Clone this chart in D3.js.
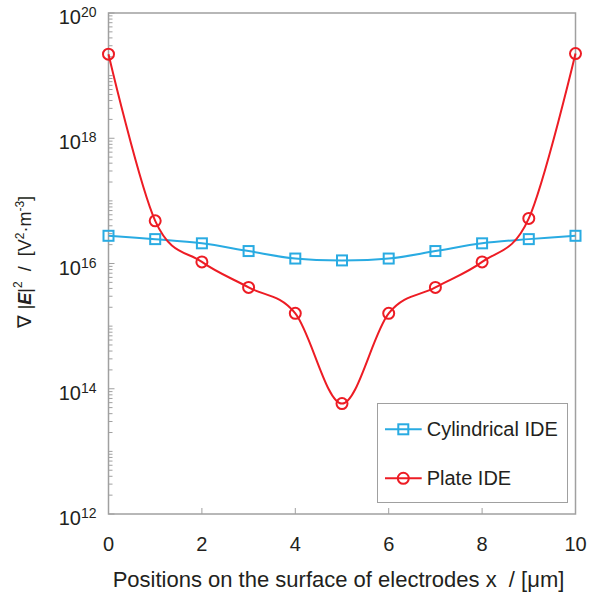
<!DOCTYPE html>
<html>
<head>
<meta charset="utf-8">
<script src="https://cdn.jsdelivr.net/npm/d3@7"></script>
<style>
  body { margin: 0; background: #fff; }
  text { font-family: "Liberation Sans", Arial, sans-serif; fill: #231f20; }
</style>
</head>
<body>
<script>
// chart data
var positions = [0, 1, 2, 3, 4, 5, 6, 7, 8, 9, 10];
var cylindrical = [2.77e16, 2.45e16, 2.1e16, 1.58e16, 1.2e16, 1.12e16, 1.2e16, 1.58e16, 2.1e16, 2.45e16, 2.77e16];
var plate = [2.2e19, 4.8e16, 1.06e16, 4.15e15, 1.6e15, 5.8e13, 1.6e15, 4.15e15, 1.06e16, 5.25e16, 2.25e19];
var seriesNames = ["Cylindrical IDE", "Plate IDE"];
var xTicks = [0, 2, 4, 6, 8, 10];
var yExponents = [12, 14, 16, 18, 20];

var W = 592, H = 595;
var margin = {left: 108.5, right: 16.5, top: 13, bottom: 81};

var svg = d3.select("body").append("svg")
    .attr("width", W)
    .attr("height", H);

var x = d3.scaleLinear().domain([0, 10]).range([margin.left, W - margin.right]);
var y = d3.scaleLog().domain([1e12, 1e20]).range([H - margin.bottom, margin.top]);

var axisColor = "#a0a0a0";

// frame
svg.append("rect")
    .attr("x", x(0)).attr("y", y(1e20))
    .attr("width", x(10) - x(0)).attr("height", y(1e12) - y(1e20))
    .attr("fill", "none")
    .attr("stroke", axisColor)
    .attr("stroke-width", 1.5);

// y ticks: majors every two decades, minors at 1..9 x 10^n
var minorVals = [];
for (var e = 12; e < 20; e++) {
    for (var k = 1; k <= 9; k++) {
        if (k === 1 && e % 2 === 0) continue;
        minorVals.push(k * Math.pow(10, e));
    }
}
svg.append("g").selectAll("line.minor")
    .data(minorVals)
    .enter().append("line")
    .attr("x1", x(0)).attr("x2", x(0) + 4)
    .attr("y1", function(d) { return y(d); })
    .attr("y2", function(d) { return y(d); })
    .attr("stroke", axisColor).attr("stroke-width", 1);

svg.append("g").selectAll("line.major")
    .data(yExponents)
    .enter().append("line")
    .attr("x1", x(0)).attr("x2", x(0) + 6)
    .attr("y1", function(d) { return y(Math.pow(10, d)); })
    .attr("y2", function(d) { return y(Math.pow(10, d)); })
    .attr("stroke", axisColor).attr("stroke-width", 1);

var yLabels = svg.append("g").selectAll("text")
    .data(yExponents)
    .enter().append("text")
    .attr("x", x(0) - 12)
    .attr("y", function(d) { return y(Math.pow(10, d)) + 11; })
    .attr("text-anchor", "end")
    .style("font-size", "20px");
yLabels.append("tspan").text("10");
yLabels.append("tspan")
    .attr("dy", -7)
    .style("font-size", "14px")
    .text(function(d) { return d; });

// x ticks
svg.append("g").selectAll("line")
    .data(xTicks.filter(function(d) { return d > 0 && d < 10; }))
    .enter().append("line")
    .attr("x1", function(d) { return x(d); })
    .attr("x2", function(d) { return x(d); })
    .attr("y1", y(1e12)).attr("y2", y(1e12) - 6)
    .attr("stroke", axisColor).attr("stroke-width", 1);

svg.append("g").selectAll("text")
    .data(xTicks)
    .enter().append("text")
    .attr("x", function(d) { return x(d); })
    .attr("y", 551)
    .attr("text-anchor", "middle")
    .style("font-size", "20px")
    .text(function(d) { return d; });

// axis titles
svg.append("text")
    .attr("x", 338.5)
    .attr("y", 587)
    .attr("text-anchor", "middle")
    .style("font-size", "22px")
    .style("white-space", "pre")
    .text("Positions on the surface of electrodes x  / [\u03bcm]");

var yTitle = svg.append("text")
    .attr("transform", "translate(31,262) rotate(-90)")
    .attr("text-anchor", "middle")
    .style("font-size", "18px")
    .style("white-space", "pre");
yTitle.append("tspan").style("font-family", "'DejaVu Sans'").style("font-size", "19px").text("\u2207 ");
yTitle.append("tspan").text("|");
yTitle.append("tspan").style("font-weight", "bold").style("font-style", "italic").text("E");
yTitle.append("tspan").text("|");
yTitle.append("tspan").attr("dy", -9).style("font-size", "12px").text("2");
yTitle.append("tspan").attr("dy", 9).text("  /  [V");
yTitle.append("tspan").attr("dy", -7).style("font-size", "12px").text("2");
yTitle.append("tspan").attr("dy", 7).text("\u00b7m");
yTitle.append("tspan").attr("dy", -7).style("font-size", "12px").text("-3");
yTitle.append("tspan").attr("dy", 7).text("]");

// series
var series = [
    {name: seriesNames[0], values: cylindrical, color: "#29abe2", marker: "square"},
    {name: seriesNames[1], values: plate, color: "#ed1c24", marker: "circle"}
];

var line = d3.line()
    .x(function(d, i) { return x(positions[i]); })
    .y(function(d) { return y(d); })
    .curve(d3.curveCatmullRom.alpha(0));

function drawMarker(g, type, cx, cy, color) {
    if (type === "square") {
        g.append("rect")
            .attr("x", cx - 5).attr("y", cy - 5)
            .attr("width", 10).attr("height", 10)
            .attr("fill", "none").attr("stroke", color).attr("stroke-width", 2);
    } else {
        g.append("circle")
            .attr("cx", cx).attr("cy", cy).attr("r", 5.5)
            .attr("fill", "none").attr("stroke", color).attr("stroke-width", 2);
    }
}

series.forEach(function(s) {
    var g = svg.append("g");
    g.append("path")
        .attr("d", line(s.values))
        .attr("fill", "none")
        .attr("stroke", s.color)
        .attr("stroke-width", 2);
    s.values.forEach(function(v, i) {
        drawMarker(g, s.marker, x(positions[i]), y(v), s.color);
    });
});

// legend
var legend = svg.append("g");
legend.append("rect")
    .attr("x", 377.5).attr("y", 403.5)
    .attr("width", 190).attr("height", 99)
    .attr("fill", "#fff")
    .attr("stroke", axisColor).attr("stroke-width", 1);

series.forEach(function(s, i) {
    var ly = 429.3 + i * 49;
    legend.append("line")
        .attr("x1", 385).attr("x2", 421.7)
        .attr("y1", ly).attr("y2", ly)
        .attr("stroke", s.color).attr("stroke-width", 2);
    drawMarker(legend, s.marker, 403.3, ly, s.color);
    legend.append("text")
        .attr("x", 426.7).attr("y", ly + 7)
        .style("font-size", "20px")
        .text(s.name);
});
</script>
</body>
</html>
